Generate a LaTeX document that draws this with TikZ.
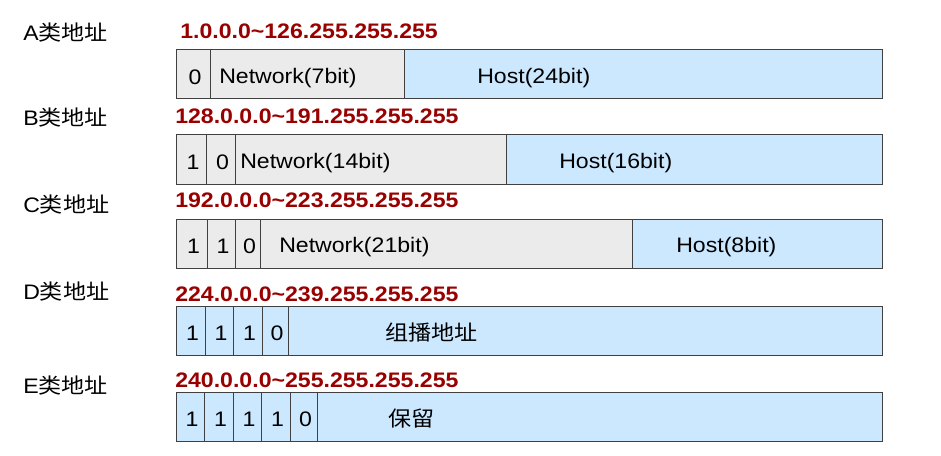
\documentclass[tikz,border=0pt]{standalone}
\usepackage{fontspec}
\setmainfont{Liberation Sans}[FakeStretch=1.1]
\newfontfamily\cjk{Noto Sans CJK SC}[FakeStretch=1.1]
\usetikzlibrary{positioning}
\definecolor{netgray}{HTML}{EBEBEB}
\definecolor{hostblue}{HTML}{CCE8FF}
\definecolor{rangered}{HTML}{990000}
\definecolor{cellline}{HTML}{404040}

\begin{document}
\begin{tikzpicture}[x=0.75pt,y=-0.75pt,
        every node/.style={font=\fontsize{15.75pt}{18pt}\selectfont},
        cell/.style={minimum height=36.75pt,outer sep=0pt,inner sep=0pt,draw=cellline,line width=0.75pt,rectangle,node distance=0pt,
                     text height=14.3pt,text depth=0pt,execute at begin node={\hspace*{3pt}}},
        net/.style={cell,fill=netgray},
        host/.style={cell,fill=hostblue},
        txt/.style={inner sep=0pt,anchor=west},
        iprange/.style={txt,text=rangered,font=\fontsize{15.75pt}{18pt}\selectfont\bfseries}]
   \useasboundingbox (0,0) rectangle (941,456);

   % A class
   \node[txt] (labA) at (23,33) {A{\cjk 类地址}};
   \node[iprange] (rngA) at (180,31) {1.0.0.0\textasciitilde126.255.255.255};
   \node (A1) [net,minimum width=25.5pt,anchor=west] at (176,74.5) {0};
   \node (A2) [net,minimum width=145.5pt,right=of A1] {};
   \node (A3) [host,minimum width=358.5pt,right=of A2] {};
   \node[txt] (netA) at ([xshift=6.75pt,yshift=-3pt]A2.west) {Network(7bit)};
   \node[txt] (hostA) at ([xshift=54.75pt,yshift=-3pt]A3.west) {Host(24bit)};

   % B class
   \node[txt] (labB) at (23,118) {B{\cjk 类地址}};
   \node[iprange] (rngB) at (175,116) {128.0.0.0\textasciitilde191.255.255.255};
   \node (B1) [net,minimum width=22.5pt,anchor=west] at (176,159.5) {1};
   \node (B2) [net,minimum width=21.75pt,right=of B1] {0};
   \node (B3) [net,minimum width=203.25pt,right=of B2] {};
   \node (B4) [host,minimum width=282pt,right=of B3] {};
   \node[txt] (netB) at ([xshift=3.75pt,yshift=-3pt]B3.west) {Network(14bit)};
   \node[txt] (hostB) at ([xshift=39.75pt,yshift=-3pt]B4.west) {Host(16bit)};

   % C class
   \node[txt] (labC) at (23,205) {C{\cjk 类地址}};
   \node[iprange] (rngC) at (175,200) {192.0.0.0\textasciitilde223.255.255.255};
   \node (C1) [net,minimum width=23.25pt,anchor=west] at (176,243.5) {1};
   \node (C2) [net,minimum width=21pt,right=of C1] {1};
   \node (C3) [net,minimum width=18.75pt,right=of C2] {0};
   \node (C4) [net,minimum width=279pt,right=of C3] {};
   \node (C5) [host,minimum width=187.5pt,right=of C4] {};
   \node[txt] (netC) at ([xshift=14.25pt,yshift=-3pt]C4.west) {Network(21bit)};
   \node[txt] (hostC) at ([xshift=33pt,yshift=-3pt]C5.west) {Host(8bit)};

   % D class
   \node[txt] (labD) at (23,292) {D{\cjk 类地址}};
   \node[iprange] (rngD) at (175,294) {224.0.0.0\textasciitilde239.255.255.255};
   \node (D1) [host,minimum width=21.75pt,anchor=west] at (176,330.5) {1};
   \node (D2) [host,minimum width=21pt,right=of D1] {1};
   \node (D3) [host,minimum width=21.75pt,right=of D2] {1};
   \node (D4) [host,minimum width=19.5pt,right=of D3] {0};
   \node (D5) [host,minimum width=445.5pt,right=of D4] {};
   \node[txt] (multiD) at ([xshift=72.75pt,yshift=-1.5pt]D5.west) {\cjk 组播地址};

   % E class
   \node[txt] (labE) at (23,386) {E{\cjk 类地址}};
   \node[iprange] (rngE) at (175,380) {240.0.0.0\textasciitilde255.255.255.255};
   \node (E1) [host,minimum width=21pt,anchor=west] at (176,416.5) {1};
   \node (E2) [host,minimum width=21.75pt,right=of E1] {1};
   \node (E3) [host,minimum width=21pt,right=of E2] {1};
   \node (E4) [host,minimum width=21.75pt,right=of E3] {1};
   \node (E5) [host,minimum width=20.25pt,right=of E4] {0};
   \node (E6) [host,minimum width=423.75pt,right=of E5] {};
   \node[txt] (resE) at ([xshift=53.25pt,yshift=-1.5pt]E6.west) {\cjk 保留};
\end{tikzpicture}
\end{document}
